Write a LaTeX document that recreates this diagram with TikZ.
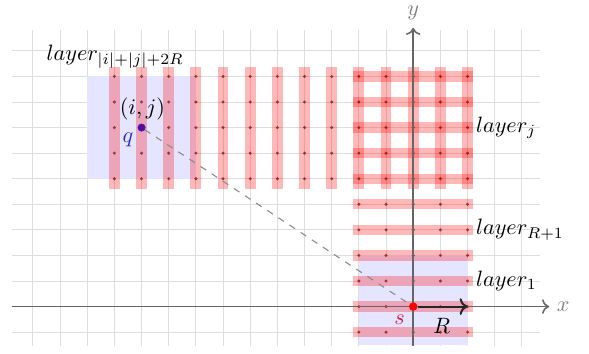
\documentclass[tikz,border=0pt]{standalone}
\usetikzlibrary{
    arrows.meta,
    positioning
}
\definecolor{scolor}{RGB}{215,30,70}
\definecolor{qcolor}{RGB}{40,40,200}

\begin{document}
\begin{tikzpicture}[
    x=0.43cm,
    y=0.4047cm,
    gridline/.style={
        draw=black!13,
        line width=0.4pt
    },
    axisline/.style={
        ->,
        draw=black!60,
        line width=0.7pt
    },
    axislabel/.style={
        text=black!50
    },
    layerstrip/.style={
        fill=red,
        fill opacity=0.28
    },
    ballarea/.style={
        fill=blue!10
    },
    gridpoint/.style={
        fill=red!50!black,
        fill opacity=0.7
    },
    layerlabel/.style={
        right,
        inner sep=3pt
    },
    pointq/.style={
        circle,
        inner sep=0pt,
        minimum size=3.2pt,
        fill=blue!55!red,
        draw=qcolor,
        line width=0.4pt
    },
    points/.style={
        circle,
        inner sep=0pt,
        minimum size=3.8pt,
        fill=red
    },
    radiusarrow/.style={
        ->,
        line width=0.9pt,
        draw=black!85
    },
    pathline/.style={
        dashed,
        draw=black!45,
        line width=0.5pt
    }
]
\useasboundingbox (-15.21,-1.84) rectangle (6.47,11.99);

% ==========================================================
% Grid and balls of radius R
% ==========================================================
\draw[gridline, step=1] (-14.77,-1.55) grid (4.65,10.8);

\fill[ballarea] (-12,5) rectangle (-8,9);
\fill[ballarea] (-2,-1.5) rectangle (2,2);

% ==========================================================
% Layers
% ==========================================================
\foreach \col in {-11,...,2}{
    \fill[layerstrip] (\col-0.2,4.6) rectangle (\col+0.2,9.35);
}
\foreach \row in {-1,...,9}{
    \fill[layerstrip] (-2.2,\row-0.2) rectangle (2.2,\row+0.2);
}

\foreach \col in {-11,...,2}{
    \foreach \row in {5,...,9}{
        \fill[gridpoint] (\col,\row) circle (0.75pt);
    }
}
\foreach \col in {-2,...,2}{
    \foreach \row in {-1,...,4}{
        \fill[gridpoint] (\col,\row) circle (0.75pt);
    }
}

% ==========================================================
% Axes
% ==========================================================
\coordinate (xstart) at (-14.77,0);
\coordinate (xend) at (5,0);
\coordinate (ystart) at (0,-1.55);
\coordinate (yend) at (0,10.9);

\draw[axisline] (xstart) -- (xend);
\draw[axisline] (ystart) -- (yend);

\node[axislabel, right] (xlabel) at (xend) {$x$};
\node[axislabel, above] (ylabel) at (yend) {$y$};

% ==========================================================
% Points q and s
% ==========================================================
\node[points] (s) at (0,0) {};
\node[pointq] (q) at (-10,7) {};
\coordinate (rend) at (2,0);

\draw[pathline] (q) -- (s);
\draw[radiusarrow] (s) -- (rend);

\node[text=scolor] (slabel) at (-0.5,-0.5) {$s$};
\node (rlabel) at (1.05,-0.77) {$R$};
\node[text=qcolor] (qlabel) at (-10.5,6.52) {$q$};
\node (ijlabel) at (-9.97,7.73) {$(i,j)$};

% ==========================================================
% Layer labels
% ==========================================================
\node (layerfar) at (-10.97,9.77) {$layer_{|i|+|j|+2R}$};
\node[layerlabel] (layerj) at (2.05,7) {$layer_j$};
\node[layerlabel] (layerrone) at (2.05,3) {$layer_{R+1}$};
\node[layerlabel] (layerone) at (2.05,1) {$layer_1$};

\end{tikzpicture}
\end{document}
